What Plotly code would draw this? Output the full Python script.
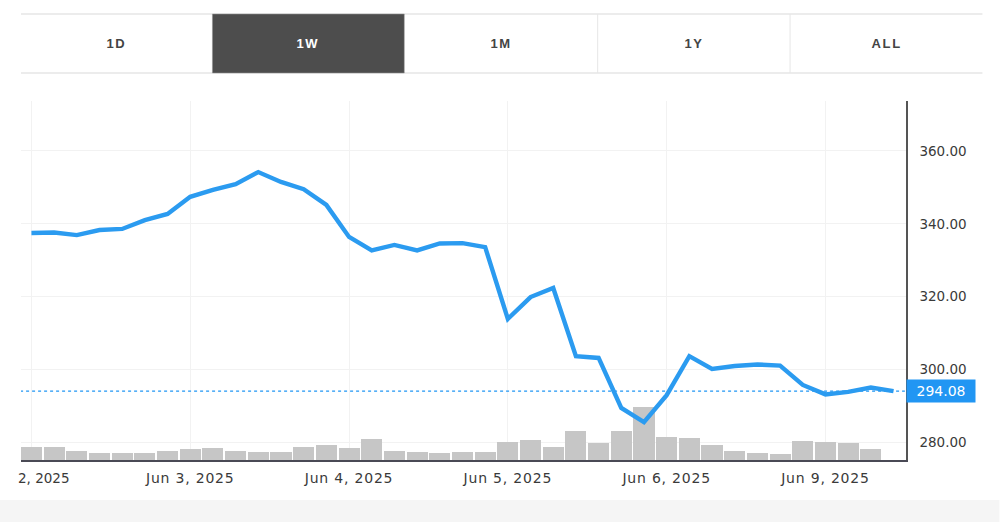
import plotly.graph_objects as go

# ---- data ----
sessions = list(range(39))
price = [337.5, 337.6, 336.9, 338.3, 338.6, 341.0, 342.7, 347.4, 349.3, 350.9,
         354.2, 351.5, 349.5, 345.2, 336.4, 332.7, 334.2, 332.7, 334.6, 334.7,
         333.6, 313.9, 319.9, 322.4, 303.7, 303.2, 289.5, 285.6, 293.0, 303.7,
         300.2, 301.0, 301.4, 301.1, 295.8, 293.2, 293.9, 295.1, 294.08]
volume = [13.3, 13.3, 9.5, 6.7, 6.7, 6.7, 9.5, 10.7, 12, 9.5,
          8, 8, 13.3, 14.7, 12, 21.3, 9.5, 8, 6.7, 8,
          8, 18, 20, 12.7, 28.7, 16.7, 28.7, 53.3, 23.3, 22,
          15.3, 8.7, 7.3, 6, 19.3, 18, 16.7, 11.3]
date_ticks = [7, 14, 21, 28, 35]
date_labels = ["Jun 3, 2025", "Jun 4, 2025", "Jun 5, 2025", "Jun 6, 2025", "Jun 9, 2025"]
first_tick = 0
first_label = "2, 2025"
price_ticks = [280, 300, 320, 340, 360]
buttons = ["1D", "1W", "1M", "1Y", "ALL"]
active_button = "1W"
last_price = price[-1]

W, H = 1000, 522
L, R, T, B = 21, 906.5, 101, 460
BLUE = "#2b9bf0"
TEXT = "#3a3a3a"


def px(x):
    return (x - L) / (R - L)


def py(y):
    return (B - y) / (B - T)


fig = go.Figure()
fig.add_bar(x=sessions[:len(volume)], y=volume, width=0.93,
            marker=dict(color="#c6c6c6", line_width=0), yaxis="y", hoverinfo="skip")
fig.add_scatter(x=[sessions[0] - 0.5, sessions[-1] + 0.5], y=[last_price, last_price], mode="lines",
                line=dict(color="#2196f3", width=1.2, dash="dot"), yaxis="y2", hoverinfo="skip")
fig.add_scatter(x=sessions, y=price, mode="lines",
                line=dict(color=BLUE, width=4.4), yaxis="y2")

shapes = []
annotations = []


def hline(x0, x1, y, color, width=1):
    shapes.append(dict(type="line", xref="paper", yref="paper", x0=px(x0), x1=px(x1),
                       y0=py(y), y1=py(y), line=dict(color=color, width=width), layer="below"))


# footer band
shapes.append(dict(type="rect", xref="paper", yref="paper", x0=px(0), x1=px(W), y0=py(500), y1=py(H),
                   fillcolor="#f5f5f5", line_width=0, layer="below"))
# button bar
hline(21, 983, 14, "#e6e6e6", 1.5)
hline(21, 983, 73, "#e6e6e6", 1.5)
btn_edges = [21, 212.5, 404.5, 598, 790.5, 983]
for i, name in enumerate(buttons):
    x0, x1 = btn_edges[i], btn_edges[i + 1]
    active = name == active_button
    if active:
        shapes.append(dict(type="rect", xref="paper", yref="paper", x0=px(x0), x1=px(x1),
                           y0=py(14), y1=py(73), fillcolor="#4d4d4d",
                           line=dict(color="#9a9a9a", width=0.5), layer="below"))
    elif i >= 3:
        shapes.append(dict(type="line", xref="paper", yref="paper", x0=px(x0), x1=px(x0),
                           y0=py(14), y1=py(73), line=dict(color="#e6e6e6", width=1), layer="below"))
    annotations.append(dict(xref="paper", yref="paper", x=px((x0 + x1) / 2), y=py(43.5),
                            xanchor="center", yanchor="middle",
                            text=name, showarrow=False,
                            font=dict(family="Liberation Sans", size=13,
                                      color="#ffffff" if active else "#444444", weight="bold")))

# clipped first date label
annotations.append(dict(xref="paper", yref="paper", x=px(72.5), y=py(478), xanchor="right", yanchor="middle",
                        text=first_label, showarrow=False,
                        font=dict(family="DejaVu Sans", size=13.5, color=TEXT)))
# last price badge
annotations.append(dict(xref="paper", yref="y2", x=px(907), y=last_price, xanchor="left", yanchor="middle",
                        text=f"{last_price:.2f}", showarrow=False, bgcolor="#2196f3",
                        width=64, height=18, align="center", borderpad=2,
                        font=dict(family="DejaVu Sans", size=14, color="#ffffff")))

fig.update_layout(
    width=W, height=H, margin=dict(l=L, r=W - R, t=T, b=H - B),
    paper_bgcolor="white", plot_bgcolor="white", showlegend=False, bargap=0,
    xaxis=dict(range=[-0.46, 38.55], tickmode="array",
               tickvals=[first_tick] + date_ticks, ticktext=[" "] + date_labels,
               showgrid=True, gridcolor="#f2f2f2", gridwidth=1, zeroline=False,
               showline=True, linecolor="#4a4a55", linewidth=1.5, ticks="",
               ticklabelstandoff=4,
               tickfont=dict(family="DejaVu Sans", size=14, color=TEXT)),
    yaxis=dict(range=[0, B - T], visible=False, showgrid=False),
    yaxis2=dict(range=[275.2, 373.7], overlaying="y", side="right", tickmode="array",
                tickvals=price_ticks, ticktext=[f"{v:.2f}" for v in price_ticks],
                showgrid=True, gridcolor="#f2f2f2", gridwidth=1, zeroline=False,
                showline=True, linecolor="#555555", linewidth=1.5, ticks="",
                ticklabelstandoff=9,
                tickfont=dict(family="DejaVu Sans", size=13.5, color=TEXT)),
    shapes=shapes, annotations=annotations,
)

post = """
document.body.style.margin = '0';
document.documentElement.style.overflow = 'hidden';
document.querySelectorAll('.xtick text').forEach(function (t) { t.style.letterSpacing = '0.8px'; });
document.querySelectorAll('.annotation-text').forEach(function (t) {
  if (t.textContent.length <= 3) { t.style.letterSpacing = '1.6px'; }
});
"""
fig.write_html("out.html", post_script=post, config={"displayModeBar": False})
